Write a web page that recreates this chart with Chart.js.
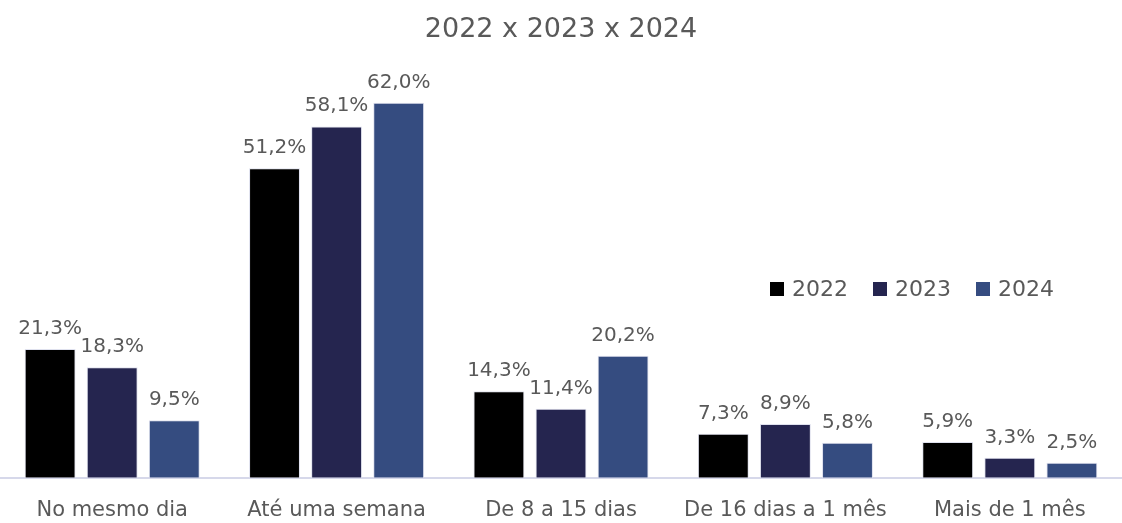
<!DOCTYPE html>
<html>
<head>
<meta charset="utf-8">
<script src="https://cdn.jsdelivr.net/npm/chart.js@4/dist/chart.umd.min.js"></script>
<style>
  html, body { margin: 0; padding: 0; background: #fff; }
  #wrap { position: relative; width: 1122px; height: 523px; }
  #legend { position: absolute; left: 770px; top: 276px; display: flex; gap: 25px;
            font-family: "DejaVu Sans", sans-serif; font-size: 22px; color: #595959; }
  #legend span.item { display: flex; align-items: center; }
  #legend span.box { display: inline-block; width: 14px; height: 14px; margin-right: 8px; }
</style>
</head>
<body>
<div id="wrap">
  <canvas id="chart" width="1122" height="523"></canvas>
  <div id="legend"></div>
</div>
<script>
// data
const categories = ['No mesmo dia', 'Até uma semana', 'De 8 a 15 dias', 'De 16 dias a 1 mês', 'Mais de 1 mês'];
const years = ['2022', '2023', '2024'];
const values2022 = [21.3, 51.2, 14.3, 7.3, 5.9];
const values2023 = [18.3, 58.1, 11.4, 8.9, 3.3];
const values2024 = [9.5, 62.0, 20.2, 5.8, 2.5];
const colors = ['#000000', '#25254f', '#354c80'];

const fontFamily = '"DejaVu Sans", sans-serif';
const textColor = '#595959';

// labels above bars, "21,3%" style
const barLabels = {
  id: 'barLabels',
  afterDatasetsDraw(chart) {
    const ctx = chart.ctx;
    ctx.save();
    ctx.font = '20px ' + fontFamily;
    ctx.fillStyle = textColor;
    ctx.textAlign = 'center';
    ctx.textBaseline = 'alphabetic';
    chart.data.datasets.forEach((ds, i) => {
      chart.getDatasetMeta(i).data.forEach((bar, j) => {
        const txt = ds.data[j].toFixed(1).replace('.', ',') + '%';
        ctx.fillText(txt, bar.x, bar.y - 15);
      });
    });
    ctx.restore();
  }
};

const ctx = document.getElementById('chart').getContext('2d');
const chart = new Chart(ctx, {
  type: 'bar',
  data: {
    labels: categories,
    datasets: [values2022, values2023, values2024].map((d, i) => ({
      label: years[i],
      data: d,
      backgroundColor: colors[i],
      borderColor: '#dfe1ee',
      borderWidth: 1,
      barPercentage: 0.82,
      categoryPercentage: 0.83
    }))
  },
  options: {
    responsive: false,
    animation: false,
    layout: { padding: { left: 0, right: 0, top: 0, bottom: -12 } },
    plugins: {
      legend: { display: false },
      tooltip: { enabled: false },
      title: {
        display: true,
        text: '2022 x 2023 x 2024',
        color: textColor,
        font: { family: fontFamily, size: 27, weight: 'normal' },
        padding: { top: 14, bottom: 22 }
      }
    },
    scales: {
      x: {
        grid: { display: false },
        border: { display: true, color: '#d6d8ea', width: 2 },
        ticks: { color: textColor, font: { family: fontFamily, size: 21 }, padding: 12 }
      },
      y: {
        display: false,
        min: 0,
        max: 67.7
      }
    }
  },
  plugins: [barLabels]
});

// legend drawn as html on top of the chart
const legend = document.getElementById('legend');
years.forEach((y, i) => {
  legend.innerHTML += '<span class="item"><span class="box" style="background:' + colors[i] + '"></span>' + y + '</span>';
});
</script>
</body>
</html>
